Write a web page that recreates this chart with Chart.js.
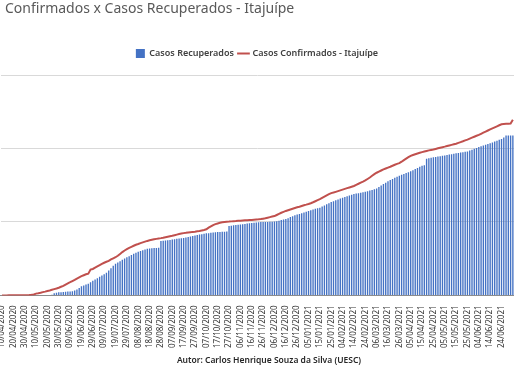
<!DOCTYPE html>
<html>
<head>
<meta charset="utf-8">
<script src="https://cdn.jsdelivr.net/npm/chart.js@4/dist/chart.umd.min.js"></script>
<style>
  html, body { margin: 0; padding: 0; background: #fff; }
  #wrap { width: 514px; height: 386px; }
</style>
</head>
<body>
<div id="wrap"><canvas id="chart"></canvas></div>
<script>
// ==================== 数据 ====================

const TITLE = "Confirmados x Casos Recuperados - Itajuípe";
const AUTHOR = "Autor: Carlos Henrique Souza da Silva (UESC)";
const LABEL_RECOVERED = "Casos Recuperados";
const LABEL_CONFIRMED = "Casos Confirmados - Itajuípe";

// one category every 2 days, from 10/04/2020
const START_DATE = "2020-04-10";
const STEP_DAYS = 2;
const TICK_EVERY = 5;   // a date label every 10 days
const LAST_TICK = 220;  // 24/06/2021, the last label still on the picture

const confirmed = [
  0, 0, 0, 1, 1, 1, 2, 2, 2, 3,
  3, 4, 6, 9, 14, 25, 30, 36, 45, 52,
  60, 68, 77, 86, 95, 105, 118, 130, 148, 165,
  180, 196, 212, 230, 246, 262, 275, 288, 297, 352,
  360, 378, 395, 412, 430, 445, 458, 470, 490, 505,
  520, 540, 565, 590, 612, 630, 648, 662, 676, 690,
  700, 712, 722, 732, 742, 750, 757, 764, 770, 776,
  780, 786, 793, 800, 806, 812, 820, 828, 836, 842,
  848, 852, 857, 861, 865, 868, 873, 878, 884, 890,
  900, 922, 940, 958, 970, 980, 988, 995, 1000, 1003,
  1005, 1008, 1010, 1012, 1015, 1018, 1020, 1022, 1024, 1026,
  1027, 1030, 1033, 1036, 1040, 1045, 1050, 1058, 1066, 1073,
  1080, 1095, 1110, 1125, 1138, 1150, 1160, 1170, 1180, 1190,
  1200, 1208, 1218, 1228, 1236, 1245, 1255, 1268, 1282, 1296,
  1310, 1328, 1345, 1362, 1378, 1392, 1400, 1410, 1420, 1430,
  1440, 1450, 1460, 1470, 1480, 1490, 1505, 1520, 1536, 1550,
  1565, 1585, 1605, 1628, 1650, 1670, 1685, 1700, 1715, 1728,
  1740, 1752, 1765, 1778, 1790, 1800, 1820, 1842, 1862, 1882,
  1900, 1912, 1922, 1932, 1942, 1950, 1958, 1966, 1974, 1980,
  1986, 1994, 2002, 2010, 2018, 2025, 2033, 2041, 2049, 2057,
  2065, 2076, 2087, 2098, 2110, 2121, 2134, 2147, 2160, 2173,
  2185, 2200, 2215, 2230, 2245, 2260, 2274, 2288, 2302, 2316,
  2330, 2334, 2336, 2337, 2340, 2390
];

const recovered = [
  0, 0, 0, 0, 0, 0, 0, 0, 0, 0,
  0, 0, 0, 0, 0, 0, 0, 0, 0, 0,
  0, 0, 10, 30, 36, 42, 44, 46, 49, 52,
  54, 58, 66, 80, 100, 125, 135, 148, 160, 180,
  200, 218, 235, 255, 272, 290, 310, 338, 370, 405,
  430, 448, 466, 485, 503, 520, 535, 552, 568, 582,
  595, 606, 616, 626, 634, 640, 643, 645, 647, 648,
  740, 744, 748, 752, 756, 760, 765, 770, 775, 778,
  782, 788, 795, 802, 808, 815, 821, 828, 834, 840,
  845, 848, 852, 856, 859, 862, 864, 866, 868, 870,
  946, 950, 954, 958, 962, 965, 969, 973, 978, 982,
  986, 989, 992, 995, 998, 1000, 1000, 1001, 1002, 1004,
  1005, 1010, 1018, 1025, 1032, 1040, 1052, 1066, 1078, 1090,
  1100, 1110, 1120, 1130, 1140, 1150, 1160, 1170, 1180, 1188,
  1195, 1210, 1225, 1240, 1256, 1270, 1282, 1294, 1306, 1318,
  1330, 1340, 1350, 1360, 1370, 1380, 1386, 1392, 1398, 1404,
  1410, 1418, 1427, 1436, 1445, 1455, 1475, 1495, 1515, 1535,
  1555, 1570, 1585, 1600, 1615, 1630, 1642, 1654, 1666, 1678,
  1689, 1704, 1720, 1735, 1750, 1765, 1772, 1860, 1866, 1874,
  1880, 1885, 1890, 1895, 1900, 1905, 1911, 1917, 1923, 1929,
  1935, 1940, 1945, 1950, 1955, 1960, 1972, 1984, 1996, 2008,
  2020, 2030, 2040, 2050, 2060, 2070, 2082, 2094, 2106, 2118,
  2130, 2150, 2175, 2175, 2175, 2175
];

// ==================== 工具函数 ====================

function formatDate(d) {
  const dd = String(d.getUTCDate()).padStart(2, "0");
  const mm = String(d.getUTCMonth() + 1).padStart(2, "0");
  return `${dd}/${mm}/${d.getUTCFullYear()}`;
}

function buildDates(start, count, step) {
  const base = new Date(start + "T00:00:00Z");
  const out = [];
  for (let i = 0; i < count; i++) {
    out.push(formatDate(new Date(base.getTime() + i * step * 86400000)));
  }
  return out;
}

const dates = buildDates(START_DATE, confirmed.length, STEP_DAYS);

// ==================== 图表 ====================

const FONT = "'Noto Sans', 'DejaVu Sans', sans-serif";

// title (left, cropped look) and author line, drawn as text
const textPlugin = {
  id: "texts",
  beforeInit(chart) {
    // extra room under the legend
    const fit = chart.legend.fit;
    chart.legend.fit = function () {
      fit.bind(chart.legend)();
      this.height += 7;
    };
  },
  afterDraw(chart) {
    const ctx = chart.ctx;
    ctx.save();
    ctx.textBaseline = "middle";
    ctx.fillStyle = "#595959";
    ctx.font = `14px ${FONT}`;
    ctx.textAlign = "left";
    ctx.fillText(TITLE, 5, 9);
    ctx.fillStyle = "#262626";
    ctx.font = `600 8.5px ${FONT}`;
    ctx.textAlign = "center";
    ctx.fillText(AUTHOR, 269, 361);
    ctx.restore();
  },
};

new Chart(document.getElementById("chart"), {
  type: "bar",
  data: {
    labels: dates,
    datasets: [
      {
        type: "bar",
        label: LABEL_RECOVERED,
        data: recovered,
        backgroundColor: "#4472c4",
        borderWidth: 0,
        barPercentage: 0.6,
        categoryPercentage: 1,
        pointStyle: "rect",
      },
      {
        type: "line",
        label: LABEL_CONFIRMED,
        data: confirmed,
        borderColor: "#c0504d",
        backgroundColor: "#c0504d",
        borderWidth: 2,
        pointRadius: 0,
        tension: 0,
        fill: false,
        pointStyle: "line",
      },
    ],
  },
  options: {
    responsive: true,
    maintainAspectRatio: false,
    animation: false,
    layout: { padding: { left: 0, right: 0, top: 44, bottom: 36 } },
    plugins: {
      title: { display: false },
      legend: {
        position: "top",
        labels: {
          usePointStyle: true,
          boxWidth: 9,
          boxHeight: 9,
          padding: 5,
          color: "#404040",
          font: { family: FONT, size: 9, weight: "600" },
        },
      },
      tooltip: { enabled: false },
    },
    scales: {
      x: {
        grid: { display: false },
        border: { display: true, color: "#8c8c8c", width: 1 },
        ticks: {
          autoSkip: false,
          maxRotation: 90,
          minRotation: 90,
          padding: 2,
          color: "#333333",
          font: { family: FONT, size: 8 },
          callback: (val, idx) =>
            idx % TICK_EVERY === 0 && idx <= LAST_TICK ? dates[idx] : null,
        },
      },
      y: {
        min: 0,
        max: 3000,
        ticks: { display: false, stepSize: 1000 },
        border: { display: false },
        grid: { color: "#d9d9d9", drawTicks: false },
      },
    },
  },
  plugins: [textPlugin],
});
</script>
</body>
</html>
